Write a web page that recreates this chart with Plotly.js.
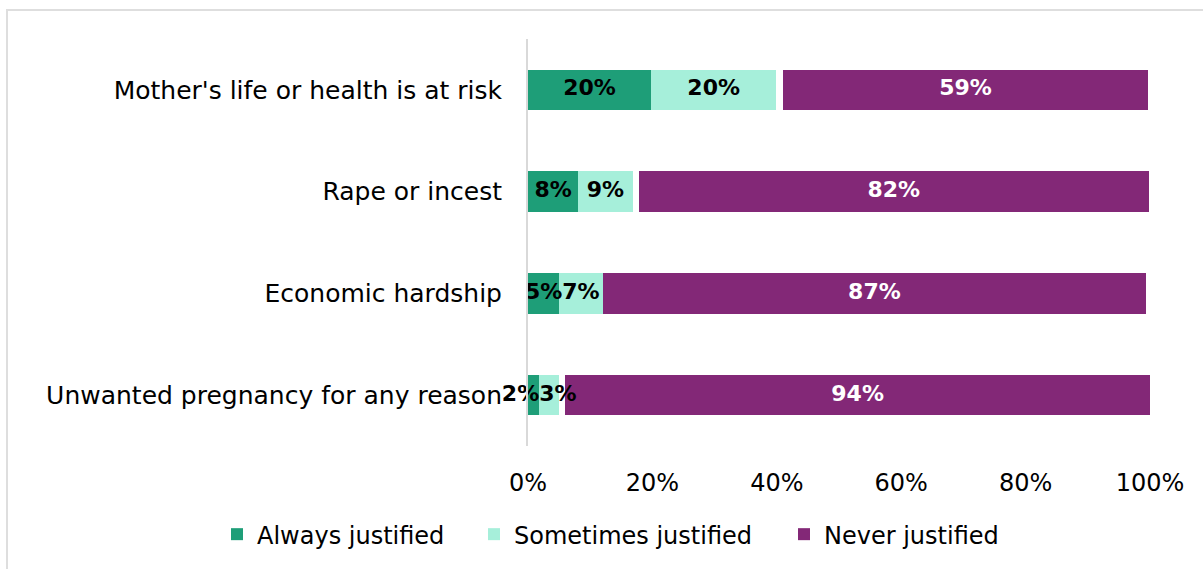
<!DOCTYPE html>
<html>
<head>
<meta charset="utf-8">
<script src="https://cdn.plot.ly/plotly-3.0.1.min.js"></script>
<style>
  html, body { margin: 0; padding: 0; background: #fff; }
  #wrap { position: relative; width: 1203px; height: 569px; overflow: hidden; }
  #chart { position: absolute; left: 0; top: 0; width: 1203px; height: 569px; }
  #frame { position: absolute; left: 6px; top: 9px; width: 1210px; height: 600px;
           border-top: 2px solid #dedede; border-left: 2px solid #dedede; pointer-events: none; }
</style>
</head>
<body>
<div id="wrap">
  <div id="chart"></div>
  <div id="frame"></div>
</div>
<script>
const categories = [
  "Mother's life or health is at risk",
  "Rape or incest",
  "Economic hardship",
  "Unwanted pregnancy for any reason"
];
const alwaysJustified    = [19.8, 8.1, 5.0, 1.8];
const sometimesJustified = [20.1, 8.7, 7.0, 3.2];
const dontKnow           = [1.1, 1.0, 0.0, 1.0];
const neverJustified     = [58.7, 82.0, 87.4, 94.0];
const tickValues = [0, 20, 40, 60, 80, 100];
const tickLabels = ["0%", "20%", "40%", "60%", "80%", "100%"];

const FONT = "DejaVu Sans, Noto Sans, sans-serif";
const COLORS = { always: "#1e9e78", sometimes: "#a6efda", never: "#832877" };

function barTrace(name, values, color, legendId) {
  const t = {
    type: "bar",
    orientation: "h",
    name: name,
    y: categories,
    x: values,
    marker: { color: color, line: { width: 0 } },
    textposition: "none",
    showlegend: !!legendId,
    hoverinfo: "skip"
  };
  if (legendId) t.legend = legendId;
  return t;
}

// Label positions derived from the data (segment midpoints; very narrow
// adjacent segments get their labels pushed apart around their shared edge).
const narrow = alwaysJustified.map((a, i) => a + sometimesJustified[i] < 6);
const alwaysX = alwaysJustified.map((a, i) => narrow[i] ? a : a / 2);
const alwaysPos = narrow.map(n => n ? "middle left" : "middle center");
const sometimesX = sometimesJustified.map((s, i) =>
  narrow[i] ? alwaysJustified[i] : alwaysJustified[i] + s / 2);
const sometimesPos = narrow.map(n => n ? "middle right" : "middle center");
const neverX = neverJustified.map((n, i) =>
  alwaysJustified[i] + sometimesJustified[i] + dontKnow[i] + n / 2);

function labelTrace(xs, values, positions, color) {
  return {
    type: "scatter",
    mode: "text",
    x: xs,
    y: categories,
    text: values.map(v => Math.round(v) + "%"),
    textposition: positions,
    textfont: { family: FONT, size: 22, color: color, weight: "bold" },
    cliponaxis: false,
    showlegend: false,
    hoverinfo: "skip"
  };
}

const data = [
  barTrace("Always justified", alwaysJustified, COLORS.always, "legend"),
  barTrace("Sometimes justified", sometimesJustified, COLORS.sometimes, "legend2"),
  barTrace("Don't know", dontKnow, "#ffffff", null),
  barTrace("Never justified", neverJustified, COLORS.never, "legend3"),
  labelTrace(alwaysX, alwaysJustified, alwaysPos, "#000000"),
  labelTrace(sometimesX, sometimesJustified, sometimesPos, "#000000"),
  labelTrace(neverX, neverJustified, "middle center", "#ffffff")
];

function legendAt(x) {
  return {
    orientation: "h",
    x: x,
    xanchor: "left",
    y: -0.2176,
    yanchor: "middle",
    font: { family: FONT, size: 24, color: "#000000" },
    bgcolor: "rgba(0,0,0,0)"
  };
}

const layout = {
  width: 1203,
  height: 569,
  margin: { l: 528, r: 53, t: 39, b: 121 },
  paper_bgcolor: "#ffffff",
  plot_bgcolor: "#ffffff",
  barmode: "stack",
  bargap: 0.6,
  font: { family: FONT, color: "#000000" },
  xaxis: {
    range: [0, 100],
    tickvals: tickValues,
    ticktext: tickLabels,
    showgrid: false,
    zeroline: false,
    showline: false,
    ticks: "",
    tickfont: { family: FONT, size: 24, color: "#000000" },
    ticklabelstandoff: 20,
    fixedrange: true
  },
  yaxis: {
    type: "category",
    categoryorder: "array",
    categoryarray: categories,
    autorange: "reversed",
    showgrid: false,
    zeroline: false,
    showline: true,
    linecolor: "#d9d9d9",
    linewidth: 2,
    ticks: "",
    tickfont: { family: FONT, size: 25, color: "#000000" },
    ticklabelstandoff: 19,
    fixedrange: true
  },
  legend: legendAt(-0.5),
  legend2: legendAt(-0.0868),
  legend3: legendAt(0.4116),
  showlegend: true
};

Plotly.newPlot("chart", data, layout, { displayModeBar: false, staticPlot: true });
</script>
</body>
</html>
